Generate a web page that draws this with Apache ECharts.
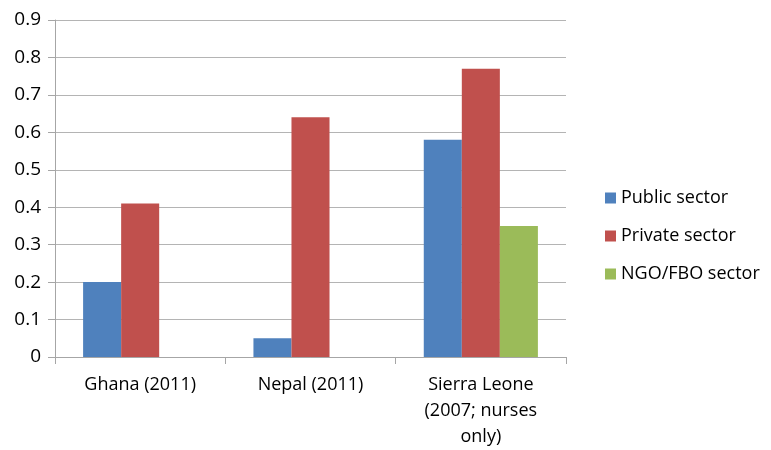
<!DOCTYPE html>
<html>
<head>
<meta charset="utf-8">
<script src="https://cdn.jsdelivr.net/npm/echarts@6/dist/echarts.min.js"></script>
<style>
  html, body { margin: 0; padding: 0; background: #fff; }
  #chart { width: 771px; height: 450px; }
</style>
</head>
<body>
<div id="chart"></div>
<script>
// data
var categories = ['Ghana (2011)', 'Nepal (2011)', 'Sierra Leone\n(2007; nurses\nonly)'];
var publicSector = [0.2, 0.05, 0.58];
var privateSector = [0.41, 0.64, 0.77];
var ngoSector = [null, null, 0.35];
var seriesNames = ['Public sector', 'Private sector', 'NGO/FBO sector'];

var font = 'Open Sans';
var chart = echarts.init(document.getElementById('chart'));
chart.setOption({
    backgroundColor: '#fff',
    animation: false,
    color: ['#4F81BD', '#C0504D', '#9BBB59'],
    grid: { left: 55, right: 205, top: 20, bottom: 86, containLabel: false },
    legend: {
        orient: 'vertical',
        left: 600,
        top: 184,
        itemWidth: 11,
        itemHeight: 11,
        itemGap: 20,
        icon: 'rect',
        data: seriesNames,
        textStyle: { fontFamily: font, fontSize: 18, color: '#000' }
    },
    xAxis: {
        type: 'category',
        data: categories,
        axisLine: { lineStyle: { color: '#A6A6A6', width: 1 } },
        axisTick: { show: true, length: 7, lineStyle: { color: '#A6A6A6' } },
        axisLabel: {
            fontFamily: font, fontSize: 18, color: '#000',
            margin: 15, lineHeight: 26, interval: 0
        }
    },
    yAxis: {
        type: 'value',
        min: 0,
        max: 0.9,
        interval: 0.1,
        axisLine: { show: true, lineStyle: { color: '#A6A6A6', width: 1 } },
        axisTick: { show: true, length: 7, lineStyle: { color: '#A6A6A6' } },
        splitLine: { lineStyle: { color: '#B4B4B4', width: 1 } },
        axisLabel: {
            fontFamily: font, fontSize: 19, color: '#000', margin: 14,
            formatter: function (v) { return String(Math.round(v * 10) / 10); }
        }
    },
    series: [
        { name: seriesNames[0], type: 'bar', data: publicSector, barGap: '0%', barCategoryGap: '33%' },
        { name: seriesNames[1], type: 'bar', data: privateSector, barGap: '0%', barCategoryGap: '33%' },
        { name: seriesNames[2], type: 'bar', data: ngoSector, barGap: '0%', barCategoryGap: '33%' }
    ]
});
</script>
</body>
</html>
